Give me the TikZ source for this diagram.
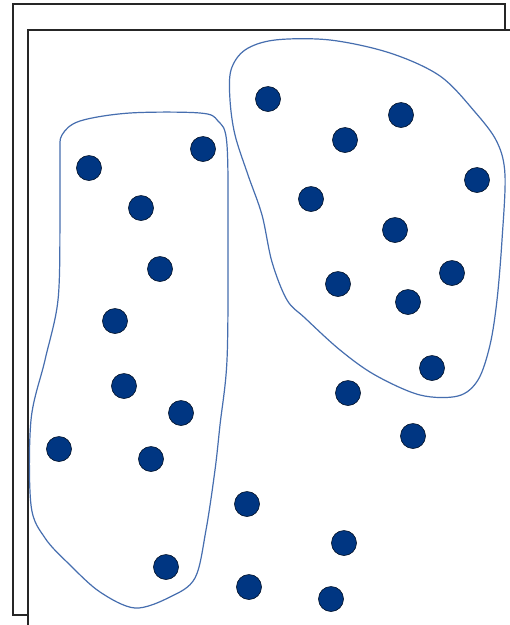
\documentclass[tikz,border=0pt]{standalone}
\usepackage{tikz}
\usetikzlibrary{positioning}
\definecolor{dotblue}{RGB}{0,54,130}
\definecolor{rimblue}{RGB}{70,110,175}

\begin{document}
\begin{tikzpicture}[
  x=1pt, y=-1pt,
  page/.style={draw=black!85, line width=1.4pt},
  dot/.style={circle, draw=black!70!dotblue, fill=dotblue, line width=0.6pt, minimum size=25pt, inner sep=0pt},
  cluster/.style={draw=rimblue, line width=1.2pt},
]
\useasboundingbox (0,0) rectangle (510,625);
\clip (0,0) rectangle (510,625);

% stacked sheets
\draw[page, fill=white] (13,4) rectangle (505,615);
\draw[page, fill=white] (28,30) rectangle (530,650);

% clusters
\draw[cluster] plot[smooth cycle, tension=0.55] coordinates {
  (62,135) (80,121) (130,113) (200,113) (218,121) (227,145) (228,250)
  (227,360) (220,425) (215,470) (206,530) (195,578) (170,597) (135,608)
  (100,592) (70,565) (45,538) (31,505) (31,420) (45,360) (58,300)
  (60,220) (60,155)};
\draw[cluster] plot[smooth cycle, tension=0.55] coordinates {
  (231,70) (245,50) (275,40) (330,40) (390,53) (440,76) (475,112)
  (497,142) (505,175) (502,240) (497,300) (490,345) (478,380) (458,396)
  (420,395) (375,375) (340,350) (305,318) (287,300) (272,262) (262,215)
  (248,175) (235,135) (230,100)};

% points, left group
\foreach \n/\p in {a1/{(89,168)}, a2/{(203,149)}, a3/{(141,208)}, a4/{(160,269)},
  a5/{(115,321)}, a6/{(124,386)}, a7/{(181,413)}, a8/{(59,449)}, a9/{(151,459)}, a10/{(166,567)}}
  \node[dot] (\n) at \p {};

% points, right group
\foreach \n/\p in {b1/{(268,99)}, b2/{(345,140)}, b3/{(401,115)}, b4/{(477,180)},
  b5/{(311,199)}, b6/{(395,230)}, b7/{(452,273)}, b8/{(338,284)}, b9/{(408,302)}, b10/{(432,368)}}
  \node[dot] (\n) at \p {};

% points, outside
\foreach \n/\p in {c1/{(348,393)}, c2/{(413,436)}, c3/{(247,504)}, c4/{(344,543)},
  c5/{(249,587)}, c6/{(331,599)}}
  \node[dot] (\n) at \p {};

\end{tikzpicture}
\end{document}
